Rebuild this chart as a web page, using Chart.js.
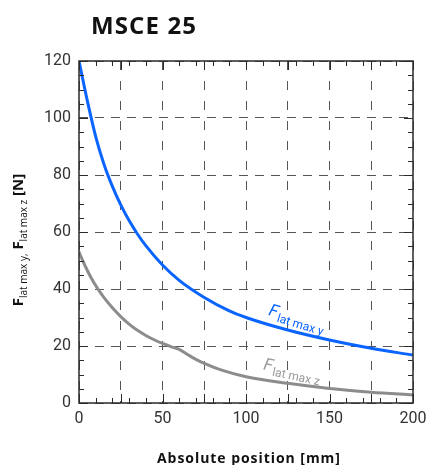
<!DOCTYPE html>
<html>
<head>
<meta charset="utf-8">
<script src="https://cdn.jsdelivr.net/npm/chart.js@4.4.1/dist/chart.umd.min.js"></script>
<style>
  html, body { margin: 0; padding: 0; background: #ffffff; }
  #wrap { width: 426px; height: 465px; position: relative; }
</style>
</head>
<body>
<div id="wrap"><canvas id="c" width="426" height="465"></canvas></div>
<script>
// ---- data ----
const chartTitle = "MSCE 25";
const xAxisTitle = "Absolute position [mm]";
const yAxisTitleParts = [["F", "main"], ["lat max y,", "sub"], [" F", "main"], ["lat max z", "sub"], [" [N]", "main"]];

const posY = [0, 5, 10, 15, 20, 25, 30, 35, 40, 50, 60, 75, 90, 100, 125, 150, 175, 200];
const forceY = [120, 106, 93.5, 83.7, 76, 69.5, 64, 59.3, 55.2, 48.4, 43, 37, 32.3, 30, 25.6, 22.1, 19.2, 16.8];

const posZ = [0, 2.5, 5, 7.5, 10, 12.5, 15, 20, 25, 30, 35, 40, 45, 50, 55, 60, 65, 70, 75, 85, 100, 125, 150, 175, 200];
const forceZ = [53, 49.6, 46.5, 43.7, 41.2, 39, 37, 33.4, 30.3, 27.7, 25.5, 23.7, 22.2, 20.9, 19.8, 18.8, 17, 15.3, 13.9, 11.6, 9.2, 6.9, 5.1, 3.8, 2.8];

const xTickLabels = [0, 50, 100, 150, 200];
const yTickLabels = [0, 20, 40, 60, 80, 100, 120];

const labelY = { main: "F", sub: "lat max y", x: 113, y: 31, angle: 17, color: "#0a64ff" };
const labelZ = { main: "F", sub: "lat max z", x: 110, y: 11.8, angle: 12, color: "#9a9a9a" };

// ---- axis settings ----
const xMin = 0, xMax = 200, xGridStep = 25, xMinorStep = 10;
const yMin = 0, yMax = 120, yGridStep = 20, yMinorStep = 5;

function toPoints(xs, ys) { return xs.map((x, i) => ({ x: x, y: ys[i] })); }

function spacedText(ctx, text, x, y, targetWidth) {
  const w = ctx.measureText(text).width;
  const sp = (targetWidth - w) / Math.max(1, text.length - 1);
  try { ctx.letterSpacing = sp.toFixed(2) + 'px'; } catch (e) {}
  ctx.fillText(text, x, y);
  try { ctx.letterSpacing = '0px'; } catch (e) {}
}

const decor = {
  id: 'decor',
  afterDatasetsDraw(chart) {
    const ctx = chart.ctx;
    const xs = chart.scales.x, ys = chart.scales.y;
    ctx.save();
    [labelY, labelZ].forEach(l => {
      const px = xs.getPixelForValue(l.x), py = ys.getPixelForValue(l.y);
      ctx.save();
      ctx.translate(px, py);
      ctx.rotate(l.angle * Math.PI / 180);
      ctx.fillStyle = l.color;
      ctx.textBaseline = 'alphabetic';
      ctx.textAlign = 'left';
      ctx.font = 'italic 17px Roboto';
      ctx.fillText(l.main, 0, 0);
      const w = ctx.measureText(l.main).width;
      ctx.font = '12px Roboto';
      ctx.fillText(l.sub, w + 1, 4);
      ctx.restore();
    });
    ctx.restore();
  },
  afterDraw(chart) {
    const ctx = chart.ctx;
    const { left, right, top, bottom } = chart.chartArea;
    const xs = chart.scales.x, ys = chart.scales.y;
    ctx.save();
    ctx.strokeStyle = '#2a2a2a';
    ctx.lineWidth = 1.5;
    ctx.strokeRect(left, top, right - left, bottom - top);
    ctx.lineWidth = 1;
    ctx.beginPath();
    for (let v = xMin; v <= xMax; v += xMinorStep) {
      const p = Math.round(xs.getPixelForValue(v)) + 0.5;
      ctx.moveTo(p, bottom); ctx.lineTo(p, bottom - 5);
      ctx.moveTo(p, top); ctx.lineTo(p, top + 5);
    }
    for (let v = xMin; v <= xMax; v += xGridStep) {
      const p = Math.round(xs.getPixelForValue(v)) + 0.5;
      ctx.moveTo(p, bottom); ctx.lineTo(p, bottom - 9);
      ctx.moveTo(p, top); ctx.lineTo(p, top + 9);
    }
    for (let v = yMin; v <= yMax; v += yMinorStep) {
      const p = Math.round(ys.getPixelForValue(v)) + 0.5;
      ctx.moveTo(left, p); ctx.lineTo(left + 5, p);
      ctx.moveTo(right, p); ctx.lineTo(right - 5, p);
    }
    for (let v = yMin; v <= yMax; v += yGridStep) {
      const p = Math.round(ys.getPixelForValue(v)) + 0.5;
      ctx.moveTo(left, p); ctx.lineTo(left + 9, p);
      ctx.moveTo(right, p); ctx.lineTo(right - 9, p);
    }
    ctx.stroke();

    // chart title
    ctx.fillStyle = '#111';
    ctx.font = 'bold 24px "Open Sans"';
    ctx.textAlign = 'left';
    ctx.textBaseline = 'alphabetic';
    spacedText(ctx, chartTitle, 91, 34, 105);

    // x axis title
    ctx.font = 'bold 14px "Open Sans"';
    ctx.textAlign = 'left';
    ctx.fillStyle = '#111';
    spacedText(ctx, xAxisTitle, 157, 463, 183);

    // y axis title (rotated, with subscripts)
    const fonts = { main: 'bold 15px "Open Sans"', sub: '10px "Open Sans"' };
    let total = 0;
    yAxisTitleParts.forEach(([t, k]) => { ctx.font = fonts[k]; total += ctx.measureText(t).width; });
    ctx.save();
    ctx.translate(23, 240);
    ctx.rotate(-Math.PI / 2);
    ctx.textAlign = 'left';
    let cx = -total / 2;
    yAxisTitleParts.forEach(([t, k]) => {
      ctx.font = fonts[k];
      ctx.fillText(t, cx, k === 'sub' ? 4 : 0);
      cx += ctx.measureText(t).width;
    });
    ctx.restore();
    ctx.restore();
  }
};

new Chart(document.getElementById('c'), {
  type: 'line',
  data: {
    datasets: [
      { label: 'F lat max z', data: toPoints(posZ, forceZ), borderColor: '#8c8c8c', borderWidth: 3, pointRadius: 0, cubicInterpolationMode: 'monotone', fill: false },
      { label: 'F lat max y', data: toPoints(posY, forceY), borderColor: '#0a64ff', borderWidth: 3, pointRadius: 0, cubicInterpolationMode: 'monotone', fill: false }
    ]
  },
  options: {
    responsive: false,
    animation: false,
    layout: { padding: { top: 61, right: 13, left: 0, bottom: 0 } },
    plugins: { legend: { display: false }, tooltip: { enabled: false }, title: { display: false } },
    scales: {
      x: {
        type: 'linear', min: xMin, max: xMax,
        afterFit: s => { s.height = 62; s.paddingLeft = 0; s.paddingRight = 0; },
        afterBuildTicks: s => { const t = []; for (let v = xMin; v <= xMax; v += xGridStep) t.push({ value: v }); s.ticks = t; },
        ticks: {
          autoSkip: false, maxRotation: 0, padding: 6,
          color: '#333', font: { family: 'Roboto', size: 16 },
          callback: v => xTickLabels.includes(v) ? String(v) : ''
        },
        grid: { color: '#555', lineWidth: 1, drawTicks: false, tickLength: 0 },
        border: { display: false, dash: [9, 11] }
      },
      y: {
        min: yMin, max: yMax,
        afterFit: s => { s.width = 79; s.paddingTop = 0; s.paddingBottom = 0; },
        afterBuildTicks: s => { s.ticks = yTickLabels.map(v => ({ value: v })); },
        ticks: {
          padding: 8, color: '#333', font: { family: 'Roboto', size: 16 },
          callback: v => String(v)
        },
        grid: { color: '#555', lineWidth: 1, drawTicks: false, tickLength: 0 },
        border: { display: false, dash: [9, 7] }
      }
    }
  },
  plugins: [decor]
});
</script>
</body>
</html>
